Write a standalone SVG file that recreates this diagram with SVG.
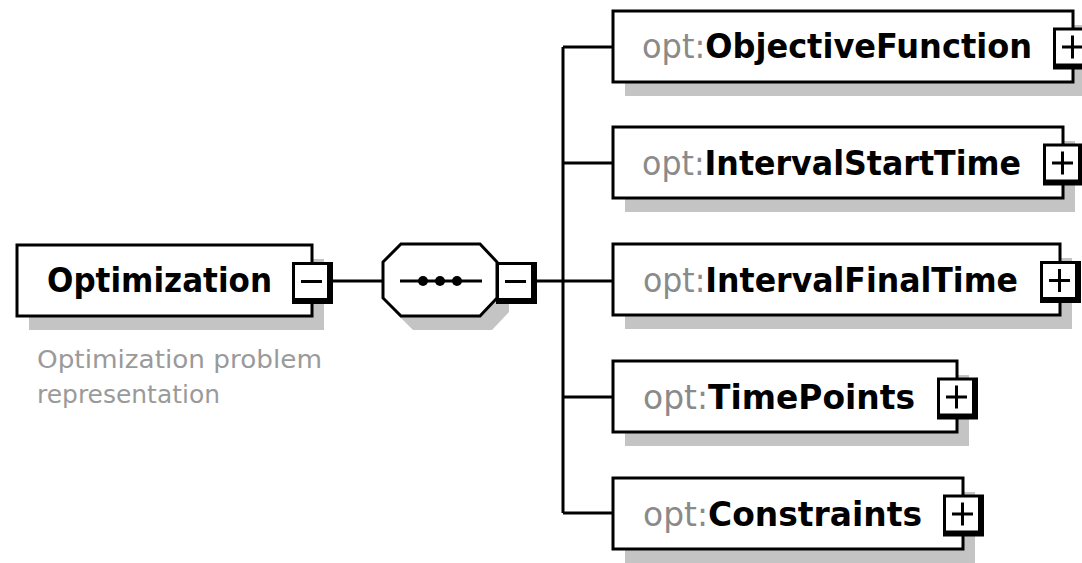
<svg xmlns="http://www.w3.org/2000/svg" xmlns:xlink="http://www.w3.org/1999/xlink" width="1082" height="563" viewBox="0 0 1082 563">
<style>
.bg{fill:#fff}
.box{fill:#fff;stroke:#000;stroke-width:3}
.shadow{fill:#c4c4c4}
.line{stroke:#000;stroke-width:3;fill:none}
.name{font-family:"DejaVu Sans",sans-serif;font-size:34px;font-weight:bold;fill:#000}
.ns{fill:#8a8a8a;font-weight:normal}
.title{font-family:"DejaVu Sans",sans-serif;font-size:34px;font-weight:bold;fill:#000}
.desc{font-family:"DejaVu Sans",sans-serif;font-size:25px;fill:#9a9a9a}
</style>
<defs>
<g id="plus">
<rect x="-20" y="-19" width="41" height="42" fill="#000"/>
<rect x="-17" y="-16" width="32" height="33" fill="#fff"/>
<path d="M-11 0.5H10M-0.5 -11V12" stroke="#000" stroke-width="3"/>
</g>
<g id="minus">
<rect x="-20" y="-19" width="41" height="42" fill="#000"/>
<rect x="-17" y="-16" width="32" height="33" fill="#fff"/>
<path d="M-11 0.5H10" stroke="#000" stroke-width="3"/>
</g>
</defs>
<rect class="bg" x="0" y="0" width="1082" height="563"/>

<g id="connectors">
<path class="line" d="M330 281H384"/>
<path class="line" d="M534 281H613"/>
<path class="line" d="M563 47V513"/>
<path class="line" d="M563 47H613M563 163H613M563 397H613M563 513H613"/>
</g>

<g id="optimization">
<rect class="shadow" x="29" y="259" width="295" height="71"/>
<rect class="box" x="17" y="245" width="295" height="71"/>
<text class="title" x="47" y="292" textLength="225" lengthAdjust="spacingAndGlyphs">Optimization</text>
<use xlink:href="#minus" x="312" y="281"/>
<text class="desc" x="37" y="368" textLength="285" lengthAdjust="spacingAndGlyphs">Optimization problem</text>
<text class="desc" x="37" y="403" textLength="183" lengthAdjust="spacingAndGlyphs">representation</text>
</g>

<g id="sequence">
<polygon class="shadow" points="395,276 413,258 492,258 509,276 509,312 492,330 413,330 395,312"/>
<polygon class="box" points="383,262 401,244 480,244 497,262 497,298 480,316 401,316 383,298"/>
<path d="M400 281H482" stroke="#000" stroke-width="3"/>
<circle cx="423" cy="281" r="5" fill="#000"/>
<circle cx="440" cy="281" r="5" fill="#000"/>
<circle cx="457" cy="281" r="5" fill="#000"/>
<use xlink:href="#minus" x="516" y="281"/>
</g>

<g id="objectiveFunction">
<rect class="shadow" x="625" y="25" width="460" height="71"/>
<rect class="box" x="613" y="11" width="460" height="71"/>
<text class="name" x="642" y="58" textLength="390" lengthAdjust="spacingAndGlyphs"><tspan class="ns">opt:</tspan>ObjectiveFunction</text>
<use xlink:href="#plus" x="1073" y="46.5"/>
</g>

<g id="intervalStartTime">
<rect class="shadow" x="625" y="141" width="450" height="71"/>
<rect class="box" x="613" y="127" width="450" height="71"/>
<text class="name" x="642" y="175" textLength="379" lengthAdjust="spacingAndGlyphs"><tspan class="ns">opt:</tspan>IntervalStartTime</text>
<use xlink:href="#plus" x="1063" y="162.5"/>
</g>

<g id="intervalFinalTime">
<rect class="shadow" x="625" y="258" width="447" height="71"/>
<rect class="box" x="613" y="244" width="447" height="71"/>
<text class="name" x="643" y="292" textLength="375" lengthAdjust="spacingAndGlyphs"><tspan class="ns">opt:</tspan>IntervalFinalTime</text>
<use xlink:href="#plus" x="1060" y="280"/>
</g>

<g id="timePoints">
<rect class="shadow" x="625" y="375" width="344" height="71"/>
<rect class="box" x="613" y="361" width="344" height="71"/>
<text class="name" x="643" y="409" textLength="272" lengthAdjust="spacingAndGlyphs"><tspan class="ns">opt:</tspan>TimePoints</text>
<use xlink:href="#plus" x="957" y="396.5"/>
</g>

<g id="constraints">
<rect class="shadow" x="625" y="492" width="350" height="71"/>
<rect class="box" x="613" y="478" width="350" height="71"/>
<text class="name" x="643" y="526" textLength="279" lengthAdjust="spacingAndGlyphs"><tspan class="ns">opt:</tspan>Constraints</text>
<use xlink:href="#plus" x="963" y="513.5"/>
</g>
</svg>
